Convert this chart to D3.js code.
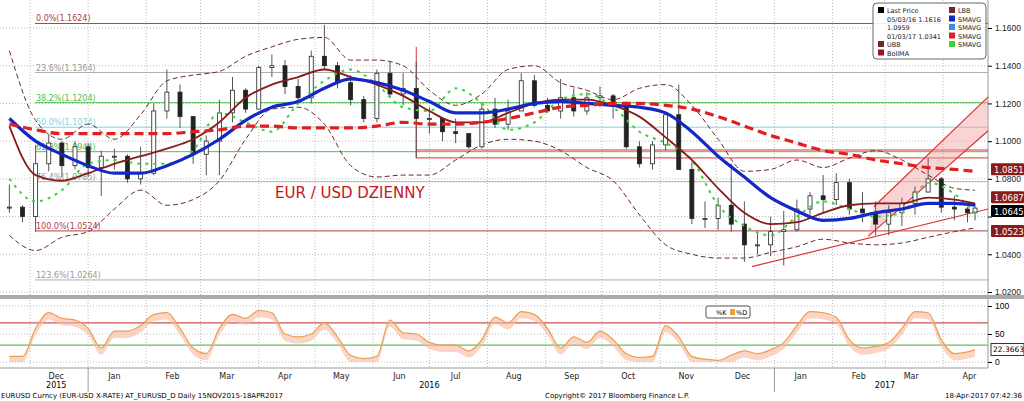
<!DOCTYPE html>
<html lang="en">
<head>
<meta charset="UTF-8">
<title>EUR / USD DZIENNY</title>
<script src="https://d3js.org/d3.v7.min.js"></script>
<style>
  body { margin: 0; background: #fff; font-family: "DejaVu Sans", Arial, sans-serif; }
  svg { display: block; }
</style>
</head>
<body>
<svg id="chart" width="1024" height="401"></svg>
<script>
// weekly bars, Nov 2015 - 18 Apr 2017
const closes = [1.065,1.060,1.088,1.099,1.087,1.097,1.086,1.092,1.092,1.080,1.083,1.116,1.126,1.113,1.093,1.100,1.115,1.127,1.117,1.139,1.140,1.129,1.123,1.145,1.140,1.131,1.122,1.112,1.136,1.125,1.128,1.112,1.112,1.105,1.104,1.097,1.117,1.109,1.116,1.132,1.119,1.116,1.123,1.116,1.123,1.124,1.120,1.097,1.088,1.098,1.114,1.085,1.059,1.059,1.066,1.056,1.045,1.045,1.052,1.053,1.064,1.071,1.069,1.078,1.064,1.062,1.056,1.062,1.067,1.073,1.080,1.065,1.064,1.062,1.0645];
const highs = [1.077,1.066,1.098,1.104,1.100,1.100,1.099,1.095,1.096,1.093,1.097,1.120,1.138,1.130,1.110,1.103,1.122,1.134,1.128,1.140,1.146,1.143,1.133,1.148,1.1616,1.142,1.135,1.124,1.138,1.142,1.136,1.142,1.118,1.112,1.112,1.104,1.120,1.123,1.122,1.136,1.135,1.123,1.133,1.128,1.126,1.129,1.125,1.121,1.100,1.100,1.115,1.130,1.089,1.068,1.070,1.088,1.068,1.052,1.060,1.063,1.069,1.073,1.082,1.083,1.080,1.073,1.068,1.066,1.070,1.076,1.091,1.081,1.071,1.065,1.067];
const lows = [1.062,1.057,1.052,1.084,1.081,1.085,1.081,1.071,1.085,1.078,1.077,1.082,1.112,1.107,1.088,1.082,1.082,1.110,1.115,1.118,1.134,1.125,1.121,1.120,1.138,1.128,1.119,1.110,1.110,1.123,1.119,1.091,1.104,1.100,1.099,1.096,1.096,1.107,1.106,1.117,1.118,1.115,1.112,1.113,1.114,1.118,1.112,1.096,1.086,1.085,1.095,1.085,1.056,1.054,1.053,1.052,1.036,1.040,1.039,1.0341,1.052,1.061,1.062,1.066,1.061,1.057,1.050,1.050,1.055,1.061,1.075,1.062,1.058,1.057,1.058];

// biweekly averages / bands (every 2nd bar)
const bbUpper = [1.148,1.111,1.101,1.109,1.101,1.114,1.132,1.135,1.137,1.145,1.150,1.154,1.155,1.143,1.143,1.140,1.127,1.119,1.125,1.138,1.140,1.131,1.127,1.122,1.128,1.130,1.119,1.101,1.084,1.085,1.090,1.086,1.091,1.095,1.090,1.082,1.075,1.074];
const bbLower = [1.050,1.042,1.049,1.052,1.064,1.074,1.066,1.069,1.079,1.101,1.117,1.118,1.109,1.087,1.081,1.082,1.082,1.090,1.098,1.101,1.100,1.095,1.086,1.079,1.061,1.045,1.040,1.038,1.038,1.041,1.044,1.048,1.046,1.045,1.046,1.049,1.052,1.054];
const sma100 = [1.112,1.100,1.093,1.087,1.083,1.083,1.087,1.093,1.101,1.111,1.118,1.121,1.128,1.133,1.131,1.127,1.121,1.115,1.115,1.117,1.120,1.121,1.120,1.119,1.118,1.115,1.105,1.092,1.081,1.070,1.063,1.058,1.059,1.062,1.064,1.067,1.067,1.066];
const sma200 = [1.109,1.106,1.104,1.104,1.104,1.104,1.104,1.105,1.106,1.108,1.108,1.107,1.107,1.107,1.108,1.110,1.109,1.109,1.110,1.112,1.115,1.118,1.119,1.120,1.120,1.119,1.117,1.113,1.108,1.103,1.099,1.095,1.093,1.090,1.088,1.086,1.085,1.084];
const sma50 = [1.108,1.082,1.079,1.083,1.088,1.092,1.096,1.101,1.110,1.123,1.130,1.134,1.138,1.134,1.130,1.124,1.116,1.110,1.110,1.115,1.120,1.122,1.122,1.119,1.113,1.102,1.090,1.075,1.062,1.056,1.057,1.062,1.066,1.067,1.067,1.070,1.069,1.067];
const sma20 = [1.080,1.068,1.074,1.088,1.090,1.088,1.088,1.095,1.115,1.110,1.105,1.120,1.132,1.138,1.130,1.118,1.116,1.128,1.120,1.106,1.110,1.122,1.125,1.118,1.105,1.099,1.090,1.066,1.055,1.050,1.060,1.068,1.064,1.060,1.062,1.078,1.072,1.062];

// stochastic %D, weekly
const stochD = [10,10,60,88,78,75,60,25,55,55,65,85,88,60,25,15,60,85,78,92,88,50,45,50,70,45,12,6,10,75,52,50,35,30,30,20,40,80,70,90,85,60,25,45,35,55,40,15,8,10,65,45,10,5,3,12,20,15,22,35,65,90,88,80,40,25,28,35,60,90,88,40,15,18,22];

const fibLevels = [
  {label: "0.0%(1.1624)", v: 1.1624, c: "#b04040"},
  {label: "23.6%(1.1364)", v: 1.1364, c: "#b0b0b0"},
  {label: "38.2%(1.1204)", v: 1.1204, c: "#4cbf4c"},
  {label: "50.0%(1.1074)", v: 1.1074, c: "#7fd3e0"},
  {label: "61.8%(1.0944)", v: 1.0944, c: "#4cbf4c"},
  {label: "76.4%(1.0785)", v: 1.0785, c: "#b0b0b0"},
  {label: "100.0%(1.0524)", v: 1.0524, c: "#b04040"},
  {label: "123.6%(1.0264)", v: 1.0264, c: "#b0b0b0"}
];
const priceTicks = [1.02,1.04,1.06,1.08,1.10,1.12,1.14,1.16];
const stochTicks = [0,50,100];
const rightTags = [
  {v: 1.0851, bg: "#8b1a1a", dy: 0}, {v: 1.0687, bg: "#8b1a1a", dy: -3},
  {v: 1.0645, bg: "#000", dy: 3}, {v: 1.0523, bg: "#8b1a1a", dy: 0}
];
const monthLabels = ["Dec","Jan","Feb","Mar","Apr","May","Jun","Jul","Aug","Sep","Oct","Nov","Dec","Jan","Feb","Mar","Apr"];
const yearLabels = [["2015","2015-12-15"],["2016","2016-07-01"],["2017","2017-03-01"]];

const svg = d3.select("#chart");
const start = new Date(2015, 10, 15);
const dates = closes.map((_, i) => i === closes.length - 1 ? new Date(2017, 3, 18) : d3.timeDay.offset(new Date(2015, 10, 20), 7 * i));
const biDates = dates.filter((_, i) => i % 2 === 0);

const x = d3.scaleTime().domain([start, new Date(2017, 3, 18)]).range([0, 975]);
const plotRight = 988;
const y = d3.scaleLinear().domain([1.02, 1.16]).range([292, 28]);
const ys = d3.scaleLinear().domain([0, 100]).range([362, 306]);

// frames
svg.append("line").attr("x1", plotRight).attr("x2", plotRight).attr("y1", 0).attr("y2", 368).attr("stroke", "#999");
svg.append("rect").attr("x", 0).attr("y", 295).attr("width", 1024).attr("height", 4).attr("fill", "#aaa");

// grid
const months = d3.timeMonth.range(new Date(2015, 11, 1), new Date(2017, 4, 1));
svg.append("g").selectAll("line").data(months).join("line")
  .attr("x1", d => x(d)).attr("x2", d => x(d)).attr("y1", 0).attr("y2", 368)
  .attr("stroke", "#bbb").attr("stroke-dasharray", "1,2");
svg.append("g").selectAll("line").data(priceTicks).join("line")
  .attr("x1", 0).attr("x2", plotRight).attr("y1", d => y(d)).attr("y2", d => y(d))
  .attr("stroke", "#bbb").attr("stroke-dasharray", "1,2");
svg.append("g").selectAll("line").data(stochTicks).join("line")
  .attr("x1", 0).attr("x2", plotRight).attr("y1", d => ys(d)).attr("y2", d => ys(d))
  .attr("stroke", "#bbb").attr("stroke-dasharray", "1,2");

// fib levels
fibLevels.forEach(f => {
  svg.append("line").attr("x1", 35).attr("x2", plotRight).attr("y1", y(f.v)).attr("y2", y(f.v))
    .attr("stroke", f.c).attr("stroke-width", 1);
  svg.append("text").attr("x", 36).attr("y", y(f.v) - 2).attr("font-size", 8).attr("fill", f.c === "#b0b0b0" ? "#999" : f.c).text(f.label);
});

// resistance box & channel
const boxStart = new Date(2016, 5, 24);
svg.append("line").attr("x1", x(boxStart)).attr("x2", plotRight).attr("y1", y(1.0953)).attr("y2", y(1.0953)).attr("stroke", "#d33");
svg.append("line").attr("x1", x(boxStart)).attr("x2", plotRight).attr("y1", y(1.0911)).attr("y2", y(1.0911)).attr("stroke", "#d33");
svg.append("line").attr("x1", x(boxStart)).attr("x2", x(boxStart)).attr("y1", y(1.150)).attr("y2", y(1.0911)).attr("stroke", "#d33");

const chLow = [[new Date(2017, 1, 20), 1.0495], [new Date(2017, 3, 25), 1.1055]];
const chHigh = [[new Date(2017, 1, 23), 1.0652], [new Date(2017, 3, 25), 1.1235]];
svg.append("polygon").attr("points", [chLow[0], chLow[1], chHigh[1], chHigh[0]].map(p => [x(p[0]), y(p[1])].join(",")).join(" "))
  .attr("fill", "#f4a0a0").attr("opacity", 0.45);
[chLow, chHigh].forEach(l => svg.append("line").attr("x1", x(l[0][0])).attr("y1", y(l[0][1])).attr("x2", x(l[1][0])).attr("y2", y(l[1][1])).attr("stroke", "#d33").attr("stroke-width", 1.2));
const support = [[new Date(2016, 11, 20), 1.0335], [new Date(2017, 3, 25), 1.0640]];
svg.append("line").attr("x1", x(support[0][0])).attr("y1", y(support[0][1])).attr("x2", x(support[1][0])).attr("y2", y(support[1][1])).attr("stroke", "#d33").attr("stroke-width", 1.2);

// bollinger bands
const lineB = d3.line().x((d, i) => x(biDates[i])).y(d => y(d)).curve(d3.curveMonotoneX);
svg.append("path").attr("d", lineB(bbUpper)).attr("fill", "none").attr("stroke", "#6b2a2a").attr("stroke-dasharray", "5,3");
svg.append("path").attr("d", lineB(bbLower)).attr("fill", "none").attr("stroke", "#6b2a2a").attr("stroke-dasharray", "5,3");

// price bars
const bars = svg.append("g");
closes.forEach((c, i) => {
  const o = i === 0 ? c : closes[i - 1];
  const xi = x(dates[i]);
  bars.append("line").attr("x1", xi).attr("x2", xi).attr("y1", y(highs[i])).attr("y2", y(lows[i])).attr("stroke", "#555");
  bars.append("rect").attr("x", xi - 2).attr("width", 4)
    .attr("y", y(Math.max(o, c))).attr("height", Math.max(1, Math.abs(y(o) - y(c))))
    .attr("fill", c >= o ? "#fff" : "#222").attr("stroke", "#222").attr("stroke-width", 0.8);
});

// moving averages
svg.append("path").attr("d", lineB(sma20)).attr("fill", "none").attr("stroke", "#3cd23c").attr("stroke-width", 2).attr("stroke-dasharray", "3,5");
svg.append("path").attr("d", lineB(sma50)).attr("fill", "none").attr("stroke", "#8b1a1a").attr("stroke-width", 1.8);
svg.append("path").attr("d", lineB(sma100)).attr("fill", "none").attr("stroke", "#1428c8").attr("stroke-width", 3.2);
svg.append("path").attr("d", lineB(sma200)).attr("fill", "none").attr("stroke", "#e02020").attr("stroke-width", 3.2).attr("stroke-dasharray", "9,5");

// title
svg.append("text").attr("x", 275).attr("y", 198).attr("font-size", 15).attr("fill", "#c8141e").text("EUR / USD DZIENNY");

// right axis (1.0600 label sits under the last-price tag, as in the source)
const rAxis = svg.append("g").attr("transform", `translate(${plotRight},0)`)
  .call(d3.axisRight(y).tickValues(priceTicks).tickFormat(d => d === 1.06 ? "" : d3.format(".4f")(d)).tickSize(4));
rAxis.select(".domain").remove();
rAxis.selectAll("text").attr("font-size", 8.5).attr("fill", "#222");
rightTags.forEach(t => {
  const ty = y(t.v) + t.dy;
  svg.append("rect").attr("x", plotRight + 3).attr("y", ty - 6).attr("width", 33).attr("height", 12).attr("fill", t.bg).attr("rx", 1);
  svg.append("text").attr("x", plotRight + 6).attr("y", ty + 3.5).attr("font-size", 8.5).attr("fill", "#fff").text(t.v.toFixed(4));
});

// legend
const lg = svg.append("g").attr("transform", "translate(873,3)");
lg.append("rect").attr("width", 113).attr("height", 56).attr("rx", 4).attr("fill", "#fff").attr("fill-opacity", 0.9).attr("stroke", "#666");
const legL = [["Last Price", "#000"], ["05/03/16 1.1616", null], ["1.0959", null], ["01/03/17 1.0341", null], ["UBB", "#6b2a2a"], ["BollMA", "#a01020"]];
const legR = [["LBB", "#6b2a2a"], ["SMAVG", "#1428c8"], ["SMAVG", "#3a8ee0"], ["SMAVG", "#e02020"], ["SMAVG", "#3cd23c"]];
legL.forEach((d, i) => {
  if (d[1]) lg.append("rect").attr("x", 5).attr("y", 4 + i * 8.5).attr("width", 6).attr("height", 6).attr("fill", d[1]);
  lg.append("text").attr("x", 14).attr("y", 10 + i * 8.5).attr("font-size", 6.5).attr("fill", "#222").text(d[0]);
});
legR.forEach((d, i) => {
  lg.append("rect").attr("x", 76).attr("y", 4 + i * 8.5).attr("width", 6).attr("height", 6).attr("fill", d[1]);
  lg.append("text").attr("x", 85).attr("y", 10 + i * 8.5).attr("font-size", 6.5).attr("fill", "#222").text(d[0]);
});

// stochastic panel
svg.append("line").attr("x1", 0).attr("x2", plotRight).attr("y1", ys(70)).attr("y2", ys(70)).attr("stroke", "#d05050").attr("stroke-width", 1.3);
svg.append("line").attr("x1", 0).attr("x2", plotRight).attr("y1", ys(30)).attr("y2", ys(30)).attr("stroke", "#60c060").attr("stroke-width", 1.3);
const sArea = d3.area().x((d, i) => x(dates[i])).y0(d => ys(d)).y1(d => ys(Math.max(0, d - 12))).curve(d3.curveMonotoneX);
svg.append("path").attr("d", sArea(stochD)).attr("fill", "#f8b8a0").attr("opacity", 0.6);
const sLine = d3.line().x((d, i) => x(dates[i])).y(d => ys(d)).curve(d3.curveMonotoneX);
svg.append("path").attr("d", sLine(stochD)).attr("fill", "none").attr("stroke", "#e8a050").attr("stroke-width", 1.2);
const sAxis = svg.append("g").attr("transform", `translate(${plotRight},0)`)
  .call(d3.axisRight(ys).tickValues(stochTicks).tickSize(4));
sAxis.select(".domain").remove();
sAxis.selectAll("text").attr("font-size", 8.5);
svg.append("rect").attr("x", plotRight + 3).attr("y", ys(22.37) - 6).attr("width", 33).attr("height", 12).attr("fill", "#fff").attr("stroke", "#333");
svg.append("text").attr("x", plotRight + 5).attr("y", ys(22.37) + 3).attr("font-size", 7.5).text("22.3663");
const sl = svg.append("g").attr("transform", "translate(706,306)");
sl.append("rect").attr("width", 44).attr("height", 12).attr("fill", "#fff").attr("stroke", "#555").attr("rx", 2);
sl.append("text").attr("x", 10).attr("y", 9).attr("font-size", 6.5).text("%K");
sl.append("rect").attr("x", 24).attr("y", 3).attr("width", 5).attr("height", 6).attr("fill", "#f0a030");
sl.append("text").attr("x", 30).attr("y", 9).attr("font-size", 6.5).text("%D");

// time axis
svg.append("line").attr("x1", 0).attr("x2", plotRight).attr("y1", 368).attr("y2", 368).attr("stroke", "#999");
svg.append("g").selectAll("text").data(months).join("text")
  .attr("x", d => x(d3.timeDay.offset(d, 14))).attr("y", 379).attr("text-anchor", "middle")
  .attr("font-size", 8).attr("fill", "#222").text((d, i) => monthLabels[i]);
svg.append("g").selectAll("text").data(yearLabels).join("text")
  .attr("x", d => x(new Date(d[1]))).attr("y", 388).attr("text-anchor", "middle")
  .attr("font-size", 8).text(d => d[0]);
[new Date(2016, 0, 1), new Date(2017, 0, 1)].forEach(d => svg.append("line").attr("x1", x(d)).attr("x2", x(d)).attr("y1", 368).attr("y2", 392).attr("stroke", "#999"));

// footer
svg.append("text").attr("x", 1).attr("y", 398).attr("font-size", 7).text("EURUSD Curncy (EUR-USD X-RATE) AT_EURUSD_D  Daily 15NOV2015-18APR2017");
svg.append("text").attr("x", 545).attr("y", 398).attr("font-size", 7).text("Copyright© 2017 Bloomberg Finance L.P.");
svg.append("text").attr("x", 1022).attr("y", 398).attr("text-anchor", "end").attr("font-size", 7).text("18-Apr-2017 07:42:36");
</script>
</body>
</html>
